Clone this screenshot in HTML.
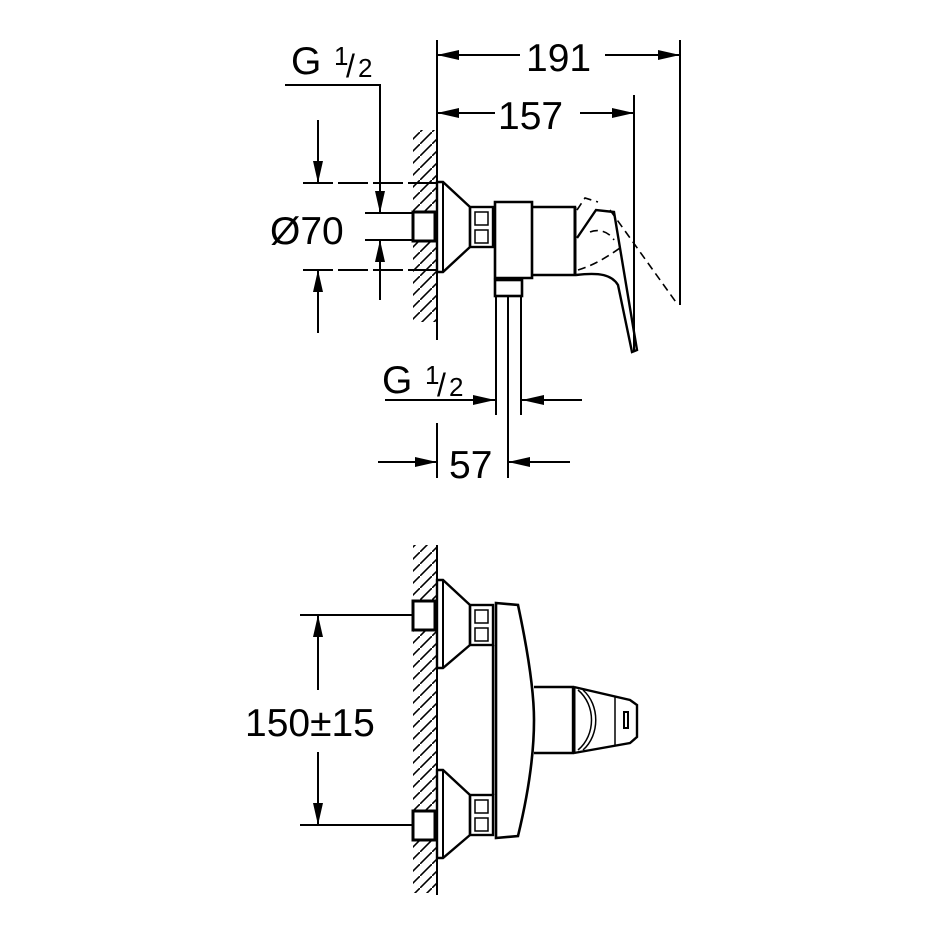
<!DOCTYPE html>
<html><head><style>body{margin:0;background:#fff}svg{display:block}text{font-family:"Liberation Sans",sans-serif;fill:#000}</style></head><body>
<svg width="930" height="930" viewBox="0 0 930 930" xmlns="http://www.w3.org/2000/svg">
<defs>
<marker id="a" viewBox="0 0 10 10" refX="10" refY="5" markerWidth="22" markerHeight="10" preserveAspectRatio="none" markerUnits="userSpaceOnUse" orient="auto"><path d="M0,0L10,5L0,10z" fill="#000"/></marker>
<pattern id="h" width="12" height="12" patternUnits="userSpaceOnUse"><path d="M-2,14L14,-2" stroke="#000" stroke-width="1.6"/></pattern>
</defs>
<g stroke="#000" stroke-width="2" fill="none">
<rect x="413" y="130" width="24" height="192" fill="url(#h)" stroke="none"/>
<rect x="413" y="545" width="24" height="348" fill="url(#h)" stroke="none"/>
<line x1="437" y1="40" x2="437" y2="340"/>
<line x1="680" y1="40" x2="680" y2="305"/>
<line x1="634" y1="95" x2="634" y2="352"/>
<line x1="520" y1="55" x2="437" y2="55" marker-end="url(#a)"/>
<line x1="605" y1="55" x2="680" y2="55" marker-end="url(#a)"/>
<line x1="495" y1="113" x2="437" y2="113" marker-end="url(#a)"/>
<line x1="580" y1="113" x2="634" y2="113" marker-end="url(#a)"/>
<polyline points="285,85 380,85 380,213" marker-end="url(#a)"/>
<line x1="303" y1="183" x2="437" y2="183" stroke-dasharray="30,5"/>
<line x1="303" y1="270" x2="437" y2="270" stroke-dasharray="30,5"/>
<line x1="318" y1="120" x2="318" y2="183" marker-end="url(#a)"/>
<line x1="318" y1="333" x2="318" y2="270" marker-end="url(#a)"/>
<line x1="380" y1="300" x2="380" y2="240" marker-end="url(#a)"/>
<line x1="365" y1="213" x2="415" y2="213"/>
<line x1="365" y1="240" x2="415" y2="240"/>
<rect x="413" y="212" width="22" height="29" stroke-width="3" fill="#fff"/>
<path d="M437,182H443L470,207V247L443,272H437Z" stroke-width="2.4" fill="#fff"/>
<line x1="443" y1="182" x2="443" y2="272"/>
<rect x="470" y="207" width="23" height="40" stroke-width="2.4"/>
<path d="M475,212h13v13h-13z M475,230h13v13h-13z" stroke-width="1.5"/>
<path d="M495,202H532V278H495Z" stroke-width="2.6"/>
<path d="M532,207H575V275H532" stroke-width="2.4"/>
<line x1="575" y1="207" x2="575" y2="275" stroke-width="3"/>
<path d="M576,275C600,272 612,275 618,285L632,352L637,350L614,212L596,210L577,238" stroke-width="2.4"/>
<path d="M577,210L585,198L598,202M610,210L678,305M578,270C595,265 610,255 620,248M590,232C600,228 610,233 614,240" stroke-dasharray="8,5" stroke-width="1.6"/>
<rect x="495" y="280" width="27" height="16" stroke-width="2.6"/>
<line x1="496" y1="296" x2="496" y2="415"/>
<line x1="521" y1="296" x2="521" y2="415"/>
<line x1="508" y1="296" x2="508" y2="478"/>
<line x1="385" y1="400" x2="495" y2="400" marker-end="url(#a)"/>
<line x1="582" y1="400" x2="522" y2="400" marker-end="url(#a)"/>
<line x1="437" y1="423" x2="437" y2="478"/>
<line x1="378" y1="462" x2="437" y2="462" marker-end="url(#a)"/>
<line x1="570" y1="462" x2="508" y2="462" marker-end="url(#a)"/>
<line x1="437" y1="545" x2="437" y2="895"/>
<line x1="300" y1="615" x2="412" y2="615"/>
<line x1="300" y1="825" x2="412" y2="825"/>
<line x1="318" y1="690" x2="318" y2="615" marker-end="url(#a)"/>
<line x1="318" y1="752" x2="318" y2="825" marker-end="url(#a)"/>
<rect x="413" y="601" width="22" height="29" stroke-width="3" fill="#fff"/>
<rect x="413" y="811" width="22" height="29" stroke-width="3" fill="#fff"/>
<path d="M437,580H443L470,605V645L443,668H437Z" stroke-width="2.4" fill="#fff"/>
<path d="M437,770H443L470,795V835L443,858H437Z" stroke-width="2.4" fill="#fff"/>
<line x1="443" y1="580" x2="443" y2="668"/>
<line x1="443" y1="770" x2="443" y2="858"/>
<rect x="470" y="605" width="23" height="40" stroke-width="2.4"/>
<rect x="470" y="795" width="23" height="40" stroke-width="2.4"/>
<path d="M475,610h13v13h-13z M475,628h13v13h-13z M475,800h13v13h-13z M475,818h13v13h-13z" stroke-width="1.5"/>
<line x1="493" y1="645" x2="493" y2="795" stroke-width="2.4"/>
<path d="M496,603L518,605Q534,680 534,720Q534,770 518,836L496,838Z" stroke-width="2.6"/>
<path d="M534,687H573V753H534" stroke-width="2.4"/>
<line x1="574" y1="687" x2="574" y2="753" stroke-width="3"/>
<path d="M574,687L630,700L637,705V737L630,743L574,753" stroke-width="2.4"/>
<path d="M578,690C596,705 596,735 578,750M583,690C600,705 600,735 583,750" stroke-width="1.5"/>
<line x1="615" y1="697" x2="615" y2="745" stroke-width="1.5"/>
<rect x="624" y="712" width="4" height="16" stroke-width="2"/>
</g>
<g font-size="39">
<text x="291" y="74">G</text><text x="334" y="65" font-size="26">1</text><text x="346" y="77" font-size="32">/</text><text x="358" y="77" font-size="26">2</text>
<text x="526" y="71">191</text>
<text x="498" y="129">157</text>
<text x="270" y="244">Ø70</text>
<text x="382" y="393">G</text><text x="425" y="384" font-size="26">1</text><text x="437" y="396" font-size="32">/</text><text x="449" y="396" font-size="26">2</text>
<text x="449" y="478">57</text>
<text x="245" y="736">150±15</text>
</g>
</svg>
</body></html>
